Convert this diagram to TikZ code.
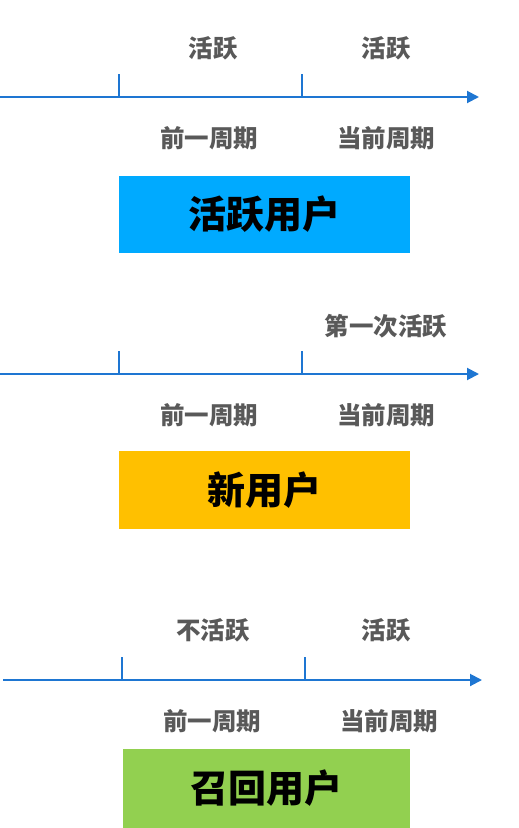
\documentclass[tikz,border=0pt]{standalone}
\usepackage{fontspec}
\newfontfamily\cjk{Noto Sans CJK SC}
\usetikzlibrary{arrows.meta}
\definecolor{axisblue}{RGB}{30,118,210}
\definecolor{lblgray}{RGB}{89,89,89}
\definecolor{boxblue}{RGB}{0,170,255}
\definecolor{boxyellow}{RGB}{255,192,0}
\definecolor{boxgreen}{RGB}{146,208,80}
\tikzset{
  axisline/.style={draw=axisblue, line width=2pt, -{Triangle[length=12pt,width=12pt]}},
  tickline/.style={draw=axisblue, line width=2pt},
  lbl/.style={text=lblgray, font=\cjk\bfseries\fontsize{24.5}{24.5}\selectfont, inner sep=0pt, anchor=center},
  catbox/.style={minimum width=#1, minimum height=77pt, inner sep=0pt, font=\cjk\bfseries\fontsize{38}{38}\selectfont, text=black},
}
\begin{document}
\begin{tikzpicture}[x=1pt,y=-1pt]
\useasboundingbox (0,0) rectangle (519,828);
% section 1
\coordinate (a1s) at (0,97);
\coordinate (a1e) at (479,97);
\draw[axisline] (a1s) -- (a1e);
\coordinate (t1at) at (119,74); \coordinate (t1ab) at (119,96);
\coordinate (t1bt) at (302,74); \coordinate (t1bb) at (302,96);
\draw[tickline] (t1at) -- (t1ab);
\draw[tickline] (t1bt) -- (t1bb);
\node[lbl] (l1a) at (213,48) {活跃};
\node[lbl] (l1b) at (386,48) {活跃};
\node[lbl] (p1a) at (209,138) {前一周期};
\node[lbl] (p1b) at (386,138) {当前周期};
\node[catbox=291pt, fill=boxblue] (b1) at (264.5,214.5) {活跃用户};
% section 2
\coordinate (a2s) at (0,374);
\coordinate (a2e) at (479,374);
\draw[axisline] (a2s) -- (a2e);
\coordinate (t2at) at (119,351); \coordinate (t2ab) at (119,373);
\coordinate (t2bt) at (302,351); \coordinate (t2bb) at (302,373);
\draw[tickline] (t2at) -- (t2ab);
\draw[tickline] (t2bt) -- (t2bb);
\node[lbl] (l2b) at (386,326) {第一次活跃};
\node[lbl] (p2a) at (209,415) {前一周期};
\node[lbl] (p2b) at (386,415) {当前周期};
\node[catbox=291pt, fill=boxyellow, minimum height=78pt] (b2) at (264.5,490) {新用户};
% section 3
\coordinate (a3s) at (3,680);
\coordinate (a3e) at (482,680);
\draw[axisline] (a3s) -- (a3e);
\coordinate (t3at) at (122,657); \coordinate (t3ab) at (122,679);
\coordinate (t3bt) at (305,657); \coordinate (t3bb) at (305,679);
\draw[tickline] (t3at) -- (t3ab);
\draw[tickline] (t3bt) -- (t3bb);
\node[lbl] (l3a) at (213,630) {不活跃};
\node[lbl] (l3b) at (386,630) {活跃};
\node[lbl] (p3a) at (212,721) {前一周期};
\node[lbl] (p3b) at (389,721) {当前周期};
\node[catbox=287pt, fill=boxgreen, minimum height=79pt] (b3) at (266.5,788.5) {召回用户};
\end{tikzpicture}
\end{document}
